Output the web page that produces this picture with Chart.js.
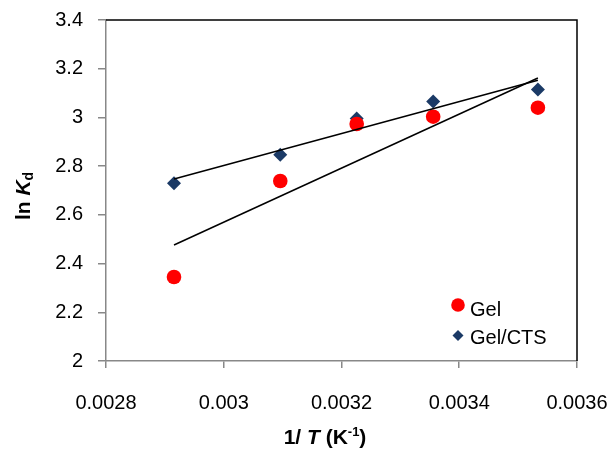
<!DOCTYPE html>
<html>
<head>
<meta charset="utf-8">
<style>
body { margin: 0; background: #fff; }
#wrap { width: 611px; height: 449px; }
</style>
<title>ln Kd vs 1/T</title>
</head>
<body>
<script src="https://cdn.jsdelivr.net/npm/chart.js@4.4.0/dist/chart.umd.min.js"></script>
<div id="wrap"><canvas id="kdplot" width="611" height="449"></canvas></div>
<script>
// 1/T values (K^-1) for 343, 323, 310, 298, 283 K
var invT = [0.0029155, 0.0030960, 0.0032258, 0.0033557, 0.0035336];
var gel = [2.345, 2.739, 2.973, 3.003, 3.040];
var gelCts = [2.730, 2.847, 2.996, 3.065, 3.115];
var xTicks = [0.0028, 0.003, 0.0032, 0.0034, 0.0036];
var yTicks = [2, 2.2, 2.4, 2.6, 2.8, 3, 3.2, 3.4];

function pts(ys) {
  var out = [];
  for (var i = 0; i < invT.length; i++) out.push({x: invT[i], y: ys[i]});
  return out;
}

// least squares trendline, from first to last x (like Excel)
function trend(ys) {
  var n = invT.length, mx = 0, my = 0;
  for (var i = 0; i < n; i++) { mx += invT[i]; my += ys[i]; }
  mx /= n; my /= n;
  var sxy = 0, sxx = 0;
  for (i = 0; i < n; i++) {
    sxy += (invT[i] - mx) * (ys[i] - my);
    sxx += (invT[i] - mx) * (invT[i] - mx);
  }
  var b = sxy / sxx, a = my - b * mx;
  var x0 = invT[0], x1 = invT[n - 1];
  return [{x: x0, y: a + b * x0}, {x: x1, y: a + b * x1}];
}

var FONT = "'Liberation Sans', Arial, sans-serif";
var RED = '#ff0000', NAVY = '#1b3a66';

var extras = {
  id: 'extras',
  afterDraw: function(chart) {
    var ctx = chart.ctx, ca = chart.chartArea;
    ctx.save();
    // top and right frame lines
    ctx.strokeStyle = '#000';
    ctx.lineWidth = 1.5;
    ctx.beginPath();
    ctx.moveTo(ca.left, ca.top);
    ctx.lineTo(ca.right, ca.top);
    ctx.lineTo(ca.right, ca.bottom);
    ctx.stroke();

    // legend
    ctx.fillStyle = RED;
    ctx.beginPath(); ctx.arc(458, 305, 6.8, 0, Math.PI * 2); ctx.fill();
    ctx.fillStyle = NAVY;
    ctx.beginPath();
    ctx.moveTo(458, 330); ctx.lineTo(463.5, 335.5); ctx.lineTo(458, 341); ctx.lineTo(452.5, 335.5);
    ctx.closePath(); ctx.fill();
    ctx.fillStyle = '#000';
    ctx.font = '20px ' + FONT;
    ctx.textBaseline = 'middle';
    ctx.textAlign = 'left';
    ctx.fillText('Gel', 470, 310);
    ctx.fillText('Gel/CTS', 470, 338);

    // axis titles with italics / sub / superscripts
    function runs(parts, cx, cy) {
      var w = 0, i;
      for (i = 0; i < parts.length; i++) {
        ctx.font = parts[i].f;
        parts[i].w = ctx.measureText(parts[i].t).width;
        w += parts[i].w;
      }
      var x = cx - w / 2;
      for (i = 0; i < parts.length; i++) {
        ctx.font = parts[i].f;
        ctx.fillText(parts[i].t, x, cy + (parts[i].dy || 0));
        x += parts[i].w;
      }
    }
    ctx.textBaseline = 'alphabetic';
    runs([
      {t: '1/ ', f: 'bold 21px ' + FONT},
      {t: 'T', f: 'italic bold 21px ' + FONT},
      {t: ' (K', f: 'bold 21px ' + FONT},
      {t: '-1', f: 'bold 13px ' + FONT, dy: -8},
      {t: ')', f: 'bold 21px ' + FONT}
    ], 325, 444);

    ctx.save();
    ctx.translate(30, 196);
    ctx.rotate(-Math.PI / 2);
    runs([
      {t: 'ln ', f: 'bold 21px ' + FONT},
      {t: 'K', f: 'italic bold 21px ' + FONT},
      {t: 'd', f: 'bold 14px ' + FONT, dy: 3}
    ], 0, 0);
    ctx.restore();
    ctx.restore();
  }
};

new Chart(document.getElementById('kdplot'), {
  type: 'scatter',
  data: {
    datasets: [
      {label: 'Gel trend', data: trend(gel), showLine: true, borderColor: '#000', borderWidth: 1.5,
       pointRadius: 0, order: 0},
      {label: 'Gel/CTS trend', data: trend(gelCts), showLine: true, borderColor: '#000', borderWidth: 1.5,
       pointRadius: 0, order: 0},
      {label: 'Gel', data: pts(gel), pointStyle: 'circle', pointRadius: 7.3,
       backgroundColor: RED, borderColor: RED, borderWidth: 0, order: 1},
      {label: 'Gel/CTS', data: pts(gelCts), pointStyle: 'rectRot', pointRadius: 7,
       backgroundColor: NAVY, borderColor: NAVY, borderWidth: 0, order: 1}
    ]
  },
  options: {
    responsive: false,
    animation: false,
    layout: {padding: {left: 0, right: 34, top: 20, bottom: 0}},
    plugins: {legend: {display: false}, tooltip: {enabled: false}},
    scales: {
      x: {
        type: 'linear', min: 0.0028, max: 0.0036,
        afterBuildTicks: function(s) { s.ticks = xTicks.map(function(v) { return {value: v}; }); },
        afterFit: function(s) { s.height = 88; s.paddingLeft = 0; s.paddingRight = 0; },
        grid: {drawOnChartArea: false, tickLength: 7, color: '#888', lineWidth: 1.5},
        border: {color: '#888', width: 1.5},
        ticks: {padding: 23, color: '#000', font: {family: FONT, size: 20},
                callback: function(v) { return String(+v.toFixed(4)); }}
      },
      y: {
        type: 'linear', min: 2, max: 3.4,
        afterBuildTicks: function(s) { s.ticks = yTicks.map(function(v) { return {value: v}; }); },
        afterFit: function(s) { s.width = 106; s.paddingTop = 0; s.paddingBottom = 0; },
        grid: {drawOnChartArea: false, tickLength: 8, color: '#888', lineWidth: 1.5},
        border: {color: '#888', width: 1.5},
        ticks: {padding: 15, color: '#000', font: {family: FONT, size: 20},
                callback: function(v) { return String(+v.toFixed(1)); }}
      }
    }
  },
  plugins: [extras]
});
</script>
</body>
</html>
